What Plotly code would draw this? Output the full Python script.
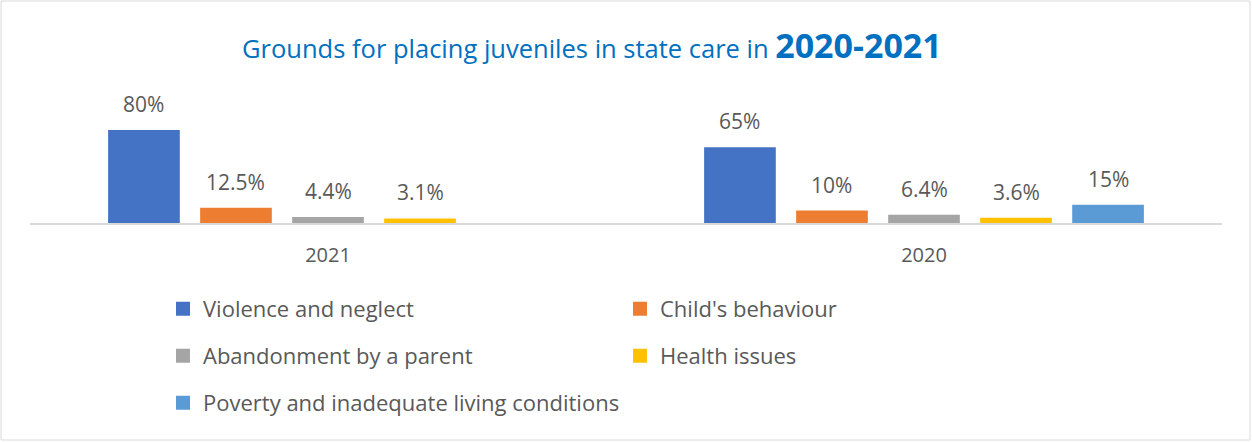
import plotly.graph_objects as go

# Years on the category axis
years = ["2021", "2020"]

# Share of placements by ground (percent)
violence_neglect = [80, 65]
childs_behaviour = [12.5, 10]
abandonment = [4.4, 6.4]
health_issues = [3.1, 3.6]
poverty = [None, 15]

series_names = [
    "Violence and neglect",
    "Child's behaviour",
    "Abandonment by a parent",
    "Health issues",
    "Poverty and inadequate living conditions",
]
series_values = [violence_neglect, childs_behaviour, abandonment, health_issues, poverty]
series_labels = [
    ["80%", "65%"],
    ["12.5%", "10%"],
    ["4.4%", "6.4%"],
    ["3.1%", "3.6%"],
    [None, "15%"],
]
colors = ["#4472C4", "#ED7D31", "#A5A5A5", "#FFC000", "#5B9BD5"]
legend_ids = ["legend", "legend", "legend2", "legend2", "legend3"]

FONT = "Open Sans"
TEXT_GRAY = "#595959"

W, H = 1252, 442
ML, MR, MT, MB = 30, 30, 90, 219
plot_w = W - ML - MR
plot_h = H - MT - MB
BARGAP = 0.228
BARGROUPGAP = 0.243
slot_px = plot_w / len(years) * (1 - BARGAP) / len(series_names)


def px_to_paper_x(px):
    return (px - ML) / plot_w


def px_to_paper_y(py):
    return (H - MB - py) / plot_h


fig = go.Figure()
for i, (name, vals, col, lg) in enumerate(zip(series_names, series_values, colors, legend_ids)):
    fig.add_trace(go.Bar(
        x=years, y=vals, name=name,
        marker=dict(color=col, line=dict(width=2, color=col)),
        legend=lg, hoverinfo="skip",
    ))

# Value labels above each bar (x given as category index)
annotations = []
for i, (vals, labels) in enumerate(zip(series_values, series_labels)):
    for j, (v, lab) in enumerate(zip(vals, labels)):
        if v is None:
            continue
        annotations.append(dict(
            x=j, y=v, xref="x", yref="y", text=lab, showarrow=False,
            xshift=(i - 2) * slot_px, yshift=11, yanchor="bottom",
            font=dict(family=FONT, size=21, color=TEXT_GRAY),
        ))

# Two-tone title
annotations.append(dict(
    x=px_to_paper_x(592), y=px_to_paper_y(45), xref="paper", yref="paper",
    showarrow=False,
    text=("<span style='font-size:25.5px'>Grounds for placing juveniles in state care in </span>"
          "<b><span style='font-size:34px'>2020-2021</span></b>"),
    font=dict(family=FONT, color="#0070C0"),
    xanchor="center", yanchor="middle",
))

legend_style = dict(
    orientation="h", entrywidth=412, entrywidthmode="pixels",
    font=dict(family=FONT, size=22, color=TEXT_GRAY),
    bgcolor="rgba(0,0,0,0)", xanchor="left", yanchor="middle",
    itemclick=False, itemdoubleclick=False,
)

fig.update_layout(
    width=W, height=H,
    margin=dict(l=ML, r=MR, t=MT, b=MB),
    paper_bgcolor="white", plot_bgcolor="white",
    barmode="group", bargap=BARGAP, bargroupgap=BARGROUPGAP,
    font=dict(family=FONT, color=TEXT_GRAY),
    xaxis=dict(
        type="category", range=[-0.5, len(years) - 0.5],
        showline=True, linecolor="#D9D9D9", linewidth=2, showgrid=False,
        ticks="", tickfont=dict(family=FONT, size=20, color=TEXT_GRAY),
        ticklabelstandoff=13, fixedrange=True,
    ),
    yaxis=dict(
        range=[0, 80 * plot_h / 92], showticklabels=False, showgrid=False,
        zeroline=False, showline=False, fixedrange=True,
    ),
    legend=dict(x=px_to_paper_x(163), y=px_to_paper_y(309), **legend_style),
    legend2=dict(x=px_to_paper_x(163), y=px_to_paper_y(356), **legend_style),
    legend3=dict(x=px_to_paper_x(163), y=px_to_paper_y(403), **legend_style),
    annotations=annotations,
    shapes=[dict(
        type="rect", xref="paper", yref="paper",
        x0=px_to_paper_x(1), x1=px_to_paper_x(1250),
        y0=px_to_paper_y(440), y1=px_to_paper_y(1),
        line=dict(color="#D9D9D9", width=1), fillcolor="rgba(0,0,0,0)", layer="below",
    )],
    showlegend=True,
)

fig.write_html("out.html", config={"displayModeBar": False})
